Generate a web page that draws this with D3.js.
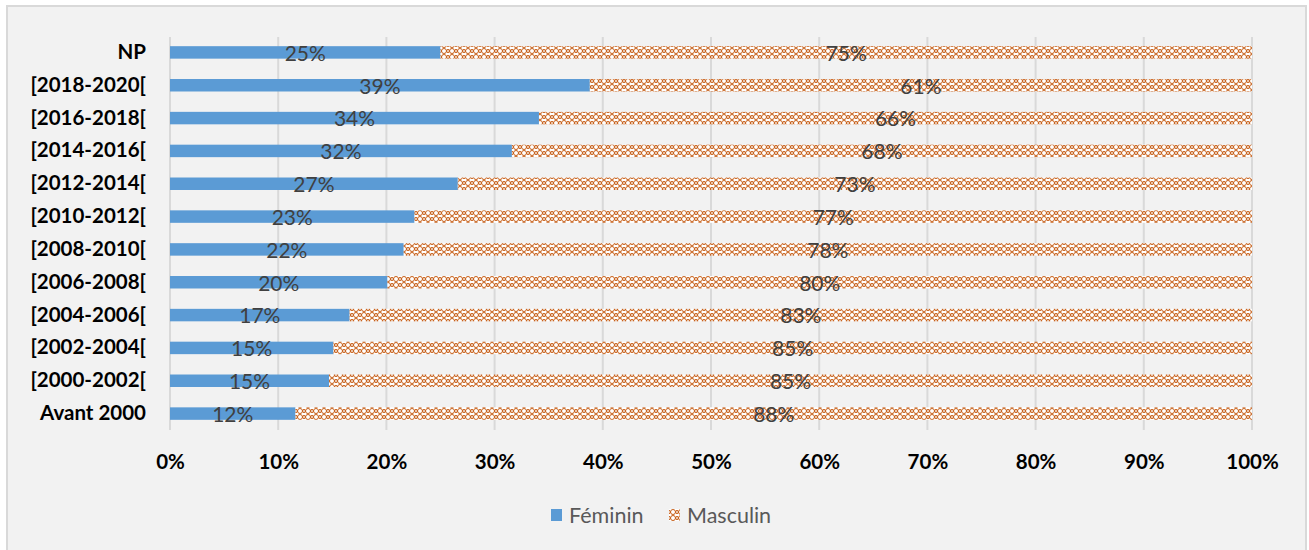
<!DOCTYPE html>
<html>
<head>
<meta charset="utf-8">
<script src="https://cdn.jsdelivr.net/npm/d3@7"></script>
<style>
  body { margin: 0; background: #fff; }
  svg { display: block; font-family: Lato, "Open Sans", sans-serif; }
</style>
</head>
<body>
<svg id="chart" width="1309" height="550"></svg>
<script>
// categories, top to bottom
var categories = ["NP", "[2018-2020[", "[2016-2018[", "[2014-2016[", "[2012-2014[", "[2010-2012[",
                  "[2008-2010[", "[2006-2008[", "[2004-2006[", "[2002-2004[", "[2000-2002[", "Avant 2000"];
// share of women, percent
var feminin = [25.0, 38.8, 34.1, 31.6, 26.6, 22.6, 21.6, 20.1, 16.6, 15.1, 14.7, 11.6];
// share of men, percent
var masculin = [75.0, 61.2, 65.9, 68.4, 73.4, 77.4, 78.4, 79.9, 83.4, 84.9, 85.3, 88.4];
var series = ["Féminin", "Masculin"];
var xTicks = [0, 10, 20, 30, 40, 50, 60, 70, 80, 90, 100];

var svg = d3.select("#chart");

// outer chart area
svg.append("rect")
   .attr("x", 7).attr("y", 6)
   .attr("width", 1299).attr("height", 560)
   .attr("fill", "#f2f2f2")
   .attr("stroke", "#d9d9d9")
   .attr("stroke-width", 2);

// weave fill used for the men
var pat = svg.append("defs").append("pattern")
   .attr("id", "weave")
   .attr("patternUnits", "userSpaceOnUse")
   .attr("width", 8).attr("height", 6);
pat.append("rect").attr("width", 8).attr("height", 6).attr("fill", "#ffffff");
pat.append("circle")
   .attr("cx", 4).attr("cy", 3).attr("r", 2.5)
   .attr("stroke", "#c55a11").attr("stroke-width", 1).attr("fill", "none");
pat.append("path")
   .attr("d", "M0,1 L1.5,3 L0,5 M8,1 L6.5,3 L8,5")
   .attr("stroke", "#c55a11").attr("stroke-width", 1).attr("fill", "none");

var x = d3.scaleLinear().domain([0, 100]).range([170, 1252]);
var y = d3.scaleBand().domain(categories).range([36, 430]).paddingInner(0.62).paddingOuter(0.31);

// vertical gridlines
svg.append("g")
   .selectAll("line")
   .data(xTicks)
   .enter()
     .append("line")
       .attr("x1", function(d) { return x(d); })
       .attr("x2", function(d) { return x(d); })
       .attr("y1", 37).attr("y2", 430)
       .attr("stroke", "#d9d9d9")
       .attr("stroke-width", 2);

var rows = svg.append("g")
   .selectAll("g")
   .data(categories)
   .enter()
     .append("g");

rows.append("rect")
    .attr("x", x(0))
    .attr("y", function(d) { return y(d); })
    .attr("width", function(d, i) { return x(feminin[i]) - x(0); })
    .attr("height", y.bandwidth())
    .attr("fill", "#5b9bd5");

rows.append("rect")
    .attr("x", function(d, i) { return x(feminin[i]); })
    .attr("y", function(d) { return y(d); })
    .attr("width", function(d, i) { return x(feminin[i] + masculin[i]) - x(feminin[i]); })
    .attr("height", y.bandwidth())
    .attr("fill", "url(#weave)");

// data labels
rows.append("text")
    .attr("x", function(d, i) { return (x(0) + x(feminin[i])) / 2; })
    .attr("y", function(d) { return y(d) + y.bandwidth() / 2 + 1; })
    .attr("dy", "0.35em")
    .attr("text-anchor", "middle")
    .attr("font-size", 21)
    .attr("fill", "#404040")
    .text(function(d, i) { return Math.round(feminin[i]) + "%"; });

rows.append("text")
    .attr("x", function(d, i) { return (x(feminin[i]) + x(feminin[i] + masculin[i])) / 2; })
    .attr("y", function(d) { return y(d) + y.bandwidth() / 2 + 1; })
    .attr("dy", "0.35em")
    .attr("text-anchor", "middle")
    .attr("font-size", 21)
    .attr("fill", "#404040")
    .text(function(d, i) { return Math.round(masculin[i]) + "%"; });

// category axis
var yAxis = svg.append("g")
   .attr("transform", "translate(" + 146 + ",0)")
   .call(d3.axisLeft(y).tickSize(0).tickPadding(0));
yAxis.select(".domain").remove();
yAxis.selectAll("text")
     .attr("font-family", "Lato, sans-serif")
     .attr("font-size", 20.5)
     .attr("font-weight", "bold")
     .attr("fill", "#000");

// value axis
var xAxis = svg.append("g")
   .attr("transform", "translate(0," + 451 + ")")
   .call(d3.axisBottom(x).tickValues(xTicks).tickSize(0).tickFormat(function(d) { return d + "%"; }));
xAxis.select(".domain").remove();
xAxis.selectAll("text")
     .attr("font-family", "Lato, sans-serif")
     .attr("font-size", 20.5)
     .attr("font-weight", "bold")
     .attr("fill", "#000");

// legend
var legend = svg.append("g")
   .selectAll("g")
   .data(series)
   .enter()
     .append("g")
       .attr("transform", function(d, i) { return "translate(" + (551 + i * 118) + ",509)"; });
legend.append("rect")
      .attr("width", 11).attr("height", 12)
      .attr("fill", function(d, i) { return i === 0 ? "#5b9bd5" : "url(#weave)"; });
legend.append("text")
      .attr("x", 18).attr("y", 6)
      .attr("dy", "0.35em")
      .attr("font-size", 21.5)
      .attr("fill", "#595959")
      .text(function(d) { return d; });
</script>
</body>
</html>
